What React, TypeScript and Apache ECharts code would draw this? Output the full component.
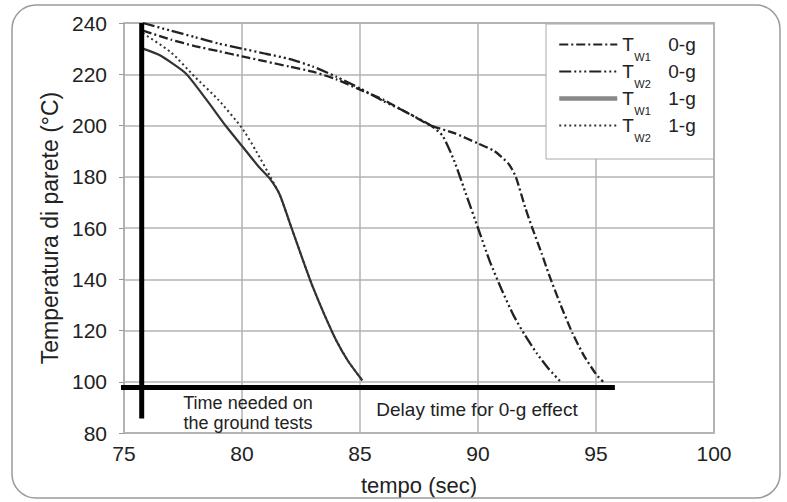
import React, { useEffect, useRef } from "react";
import * as echarts from "echarts";

// ---- data ----
const xTicks = [75, 80, 85, 90, 95, 100];
const yTicks = [80, 100, 120, 140, 160, 180, 200, 220, 240];

const tw1_0g_x = [75.8, 77, 78, 79, 80, 81, 82, 83, 84, 85, 86, 87, 88, 89, 90, 90.7, 91.3, 91.6, 92, 92.3, 92.7, 93, 93.5, 94, 94.5, 95, 95.3];
const tw1_0g_y = [237, 233.5, 231, 229, 227, 225, 223, 221, 218, 214, 210, 205, 200, 197, 193, 190, 185, 180, 168, 160, 150, 142, 130, 119, 110, 103, 100];

const tw2_0g_x = [75.8, 77, 78, 79, 80, 81, 82, 83, 84, 85, 86, 87, 88, 88.5, 89, 89.5, 90, 90.5, 91, 91.5, 92, 92.5, 93, 93.5];
const tw2_0g_y = [240, 237, 234.5, 232, 230, 228, 226, 223, 219, 214.5, 209.5, 205, 200, 196, 186, 173, 160, 147, 136, 126, 118, 111, 105, 100];

const tw1_1g_x = [75.8, 76.5, 77.6, 78.5, 79.3, 80, 80.7, 81.2, 81.6, 82.1, 82.6, 83, 83.5, 84, 84.5, 85.1];
const tw1_1g_y = [230, 227.5, 220.5, 210, 200, 192, 184, 179, 173, 160, 147, 137, 126, 116, 108, 100.5];

const tw2_1g_x = [75.8, 77, 78, 79, 80, 80.6, 81.2, 81.6, 82.1, 82.6, 83, 83.5, 84, 84.5, 85.1];
const tw2_1g_y = [236, 228.5, 219, 210, 199, 190, 180, 173, 160, 147, 137, 126, 116, 108, 100.5];

// thick reference lines
const vLineX = [75.75, 75.75];
const vLineY = [85.7, 240];
const hLineX = [74.75, 95.8];
const hLineY = [97.8, 97.8];

const zip = (xs: number[], ys: number[]) => xs.map((x, i) => [x, ys[i]]);

const FONT = "Liberation Sans, Arial, sans-serif";

export default function App() {
  const ref = useRef<HTMLDivElement>(null);
  useEffect(() => {
    if (!ref.current) return;
    const chart = echarts.init(ref.current, undefined, { renderer: "svg" });
    const legendRich = {
      t: { fontSize: 19, fontFamily: FONT, color: "#222", width: 12, lineHeight: 22, verticalAlign: "middle" },
      s: { fontSize: 11, fontFamily: FONT, color: "#222", lineHeight: 12, padding: [24, 0, 0, 0], width: 34 },
      g: { fontSize: 19, fontFamily: FONT, color: "#222", lineHeight: 22, verticalAlign: "middle" },
    };
    const fmt = (name: string) => {
      const [w, g] = name.split(" ");
      return `{t|T}{s|${w}}{g|${g}}`;
    };
    chart.setOption({
      animation: false,
      backgroundColor: "#fff",
      textStyle: { fontFamily: FONT },
      grid: { left: 124, right: 73, top: 23, bottom: 69, show: true, borderColor: "#999", borderWidth: 1.5 },
      xAxis: {
        type: "value",
        min: xTicks[0],
        max: xTicks[xTicks.length - 1],
        interval: 5,
        name: "tempo (sec)",
        nameLocation: "middle",
        nameGap: 41,
        nameTextStyle: { fontSize: 22, color: "#222", fontFamily: FONT },
        axisLine: { show: false },
        axisTick: { show: false },
        axisLabel: { fontSize: 21, color: "#222", margin: 10, fontFamily: FONT },
        splitLine: { lineStyle: { color: "#b3b3b3", width: 1.5 } },
      },
      yAxis: {
        type: "value",
        min: yTicks[0],
        max: yTicks[yTicks.length - 1],
        interval: 20,
        name: "Temperatura di parete (°C)",
        nameLocation: "middle",
        nameGap: 62,
        nameTextStyle: { fontSize: 23, color: "#222", fontFamily: FONT },
        axisLine: { show: false },
        axisTick: { show: true, length: 5, lineStyle: { color: "#999" } },
        axisLabel: { fontSize: 21, color: "#222", margin: 17, fontFamily: FONT },
        splitLine: { lineStyle: { color: "#b3b3b3", width: 1.5 } },
      },
      legend: {
        orient: "vertical",
        left: 546,
        top: 24,
        padding: [3, 18, 16, 11],
        itemWidth: 58,
        itemHeight: 10,
        itemGap: -8,
        backgroundColor: "#fff",
        borderColor: "#aaa",
        borderWidth: 1,
        formatter: fmt,
        itemStyle: { opacity: 0 },
        textStyle: { rich: legendRich },
        data: [
          { name: "W1 0-g" },
          { name: "W2 0-g" },
          { name: "W1 1-g", lineStyle: { color: "#888", width: 4.5 } },
          { name: "W2 1-g" },
        ],
      },
      graphic: [
        {
          type: "rect",
          shape: { x: 12, y: 5, width: 768, height: 493, r: 24 },
          style: { fill: "none", stroke: "#9a9a9a", lineWidth: 1.5 },
          z: 100,
        },
        {
          type: "text",
          x: 248,
          y: 403,
          style: { text: "Time needed on", fontSize: 18, fontFamily: FONT, fill: "#222", align: "center", verticalAlign: "middle" },
          z: 100,
        },
        {
          type: "text",
          x: 248,
          y: 423,
          style: { text: "the ground tests", fontSize: 18, fontFamily: FONT, fill: "#222", align: "center", verticalAlign: "middle" },
          z: 100,
        },
        {
          type: "text",
          x: 477,
          y: 409,
          style: { text: "Delay time for 0-g effect", fontSize: 19, fontFamily: FONT, fill: "#222", align: "center", verticalAlign: "middle" },
          z: 100,
        },
      ],
      series: [
        {
          name: "W1 0-g",
          type: "line",
          data: zip(tw1_0g_x, tw1_0g_y),
          showSymbol: false,
          symbol: "none",
          smooth: 0.2,
          lineStyle: { color: "#222", width: 2.3, type: [9, 3, 2, 3] },
          itemStyle: { color: "#222" },
        },
        {
          name: "W2 0-g",
          type: "line",
          data: zip(tw2_0g_x, tw2_0g_y),
          showSymbol: false,
          symbol: "none",
          smooth: 0.2,
          lineStyle: { color: "#222", width: 2.3, type: [12, 3, 2, 3, 2, 3, 2, 3] },
          itemStyle: { color: "#222" },
        },
        {
          name: "W1 1-g",
          type: "line",
          data: zip(tw1_1g_x, tw1_1g_y),
          showSymbol: false,
          symbol: "none",
          smooth: 0.2,
          lineStyle: { color: "#333", width: 2.2 },
          itemStyle: { color: "#333" },
        },
        {
          name: "W2 1-g",
          type: "line",
          data: zip(tw2_1g_x, tw2_1g_y),
          showSymbol: false,
          symbol: "none",
          smooth: 0.2,
          lineStyle: { color: "#333", width: 2, type: [2, 3] },
          itemStyle: { color: "#333" },
        },
        {
          name: "vline",
          type: "line",
          data: zip(vLineX, vLineY),
          showSymbol: false,
          symbol: "none",
          clip: false,
          lineStyle: { color: "#000", width: 5 },
          z: 5,
        },
        {
          name: "hline",
          type: "line",
          data: zip(hLineX, hLineY),
          showSymbol: false,
          symbol: "none",
          clip: false,
          lineStyle: { color: "#000", width: 5 },
          z: 5,
        },
      ],
    });
    return () => chart.dispose();
  }, []);
  return (
    <div
      ref={ref}
      style={{ position: "fixed", left: 0, top: 0, width: 787, height: 502, background: "#fff" }}
    />
  );
}
